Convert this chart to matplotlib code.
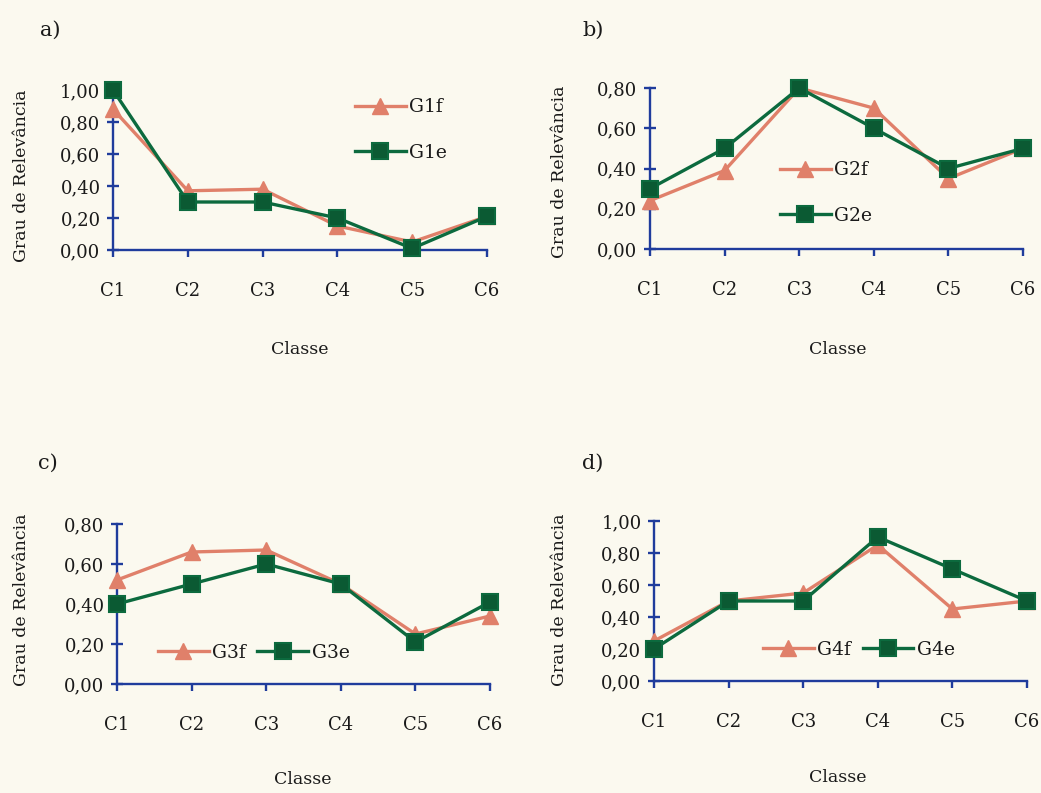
import matplotlib
matplotlib.use("Agg")
import matplotlib.pyplot as plt

plt.rcParams['font.family'] = ['DejaVu Serif']

categories = ["C1", "C2", "C3", "C4", "C5", "C6"]

g1f = [0.88, 0.37, 0.38, 0.15, 0.05, 0.21]
g1e = [1.00, 0.30, 0.30, 0.20, 0.01, 0.21]
g2f = [0.24, 0.39, 0.80, 0.70, 0.35, 0.50]
g2e = [0.30, 0.50, 0.80, 0.60, 0.40, 0.50]
g3f = [0.52, 0.66, 0.67, 0.50, 0.25, 0.34]
g3e = [0.40, 0.50, 0.60, 0.50, 0.21, 0.41]
g4f = [0.25, 0.50, 0.55, 0.85, 0.45, 0.50]
g4e = [0.20, 0.50, 0.50, 0.90, 0.70, 0.50]

yticks_10 = [0.0, 0.2, 0.4, 0.6, 0.8, 1.0]
yticks_08 = [0.0, 0.2, 0.4, 0.6, 0.8]

W, H = 1041, 793
BG = "#FBF9EF"
ORANGE = "#E0806A"
GREEN = "#0C6A3E"
GREEN_FILL = "#0B5A33"
AXIS = "#1F3C9C"
TXT = "#1a1a1a"

fig = plt.figure(figsize=(W / 100, H / 100), dpi=100, facecolor=BG)


def px_axes(left, right, top, bottom):
    return fig.add_axes([left / W, 1 - bottom / H, (right - left) / W, (bottom - top) / H])


def fmt(v):
    return f"{v:.2f}".replace(".", ",")


def panel(box, sf, se, lf, le, yticks, letter, letter_xy, classe_xy, ylab_xy, leg):
    ax = px_axes(*box)
    ax.set_facecolor(BG)
    x = list(range(len(categories)))
    ax.plot(x, sf, color=ORANGE, lw=2.4, marker="^", ms=12, mfc=ORANGE, mec=ORANGE,
            label=lf, clip_on=False, zorder=3)
    ax.plot(x, se, color=GREEN, lw=2.4, marker="s", ms=11.5, mfc=GREEN_FILL, mec=GREEN,
            mew=1.5, label=le, clip_on=False, zorder=4)
    ax.set_xlim(0, len(categories) - 1)
    ax.set_ylim(yticks[0], yticks[-1])
    ax.set_xticks(x)
    ax.set_xticklabels(categories)
    ax.set_yticks(yticks)
    ax.set_yticklabels([fmt(v) for v in yticks])
    for s in ("top", "right"):
        ax.spines[s].set_visible(False)
    for s in ("left", "bottom"):
        ax.spines[s].set_color(AXIS)
        ax.spines[s].set_linewidth(1.7)
    ax.tick_params(axis="y", direction="inout", length=8, width=1.7, color=AXIS,
                   labelsize=13, pad=5, labelcolor=TXT)
    ax.tick_params(axis="x", direction="out", length=5, width=1.7, color=AXIS,
                   labelsize=13, pad=18, labelcolor=TXT)
    fig.text(letter_xy[0] / W, 1 - letter_xy[1] / H, letter, fontsize=15,
             ha="left", va="center", color=TXT)
    fig.text(classe_xy[0] / W, 1 - classe_xy[1] / H, "Classe", fontsize=12.5,
             ha="center", va="center", color=TXT)
    fig.text(ylab_xy[0] / W, 1 - ylab_xy[1] / H, "Grau de Relevância", fontsize=12.5,
             ha="center", va="center", rotation=90, color=TXT)
    ncol, lx, ly, lspace = leg
    lg = ax.legend(loc="center left", bbox_to_anchor=(lx / W, 1 - ly / H),
                   bbox_transform=fig.transFigure, frameon=False, fontsize=13.5,
                   ncol=ncol, handlelength=2.7, handletextpad=0.2, borderpad=0,
                   borderaxespad=0, labelspacing=lspace, columnspacing=0.6)
    for t in lg.get_texts():
        t.set_color(TXT)
    return ax


panel((113, 487, 90, 250), g1f, g1e, "G1f", "G1e", yticks_10, "a)", (40, 30),
      (300, 350), (22, 176), (1, 355, 130, 1.45))
panel((650, 1023, 88, 249), g2f, g2e, "G2f", "G2e", yticks_08, "b)", (582, 30),
      (838, 350), (560, 172), (1, 780, 193, 1.45))
panel((117, 490, 524, 684), g3f, g3e, "G3f", "G3e", yticks_08, "c)", (38, 463),
      (303, 780), (22, 600), (2, 158, 653, 1.45))
panel((654, 1027, 521, 681), g4f, g4e, "G4f", "G4e", yticks_10, "d)", (582, 463),
      (838, 778), (560, 600), (2, 763, 650, 1.45))

fig.savefig("out.png", dpi=100, facecolor=BG)
